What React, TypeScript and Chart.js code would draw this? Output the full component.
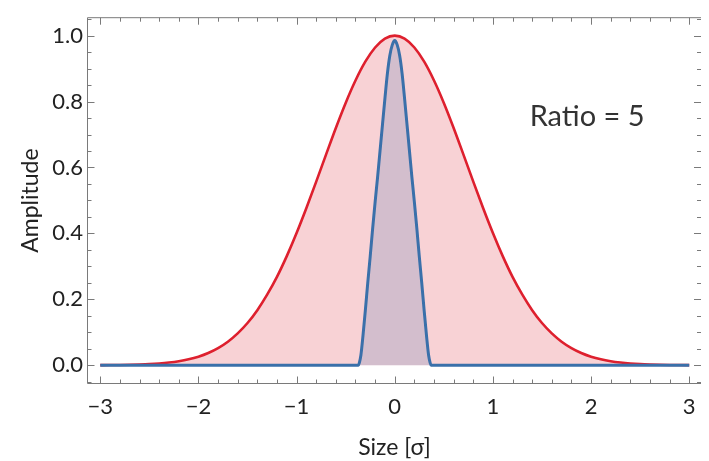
import React, { useEffect, useRef } from "react";
import { Chart, registerables } from "chart.js";

Chart.register(...registerables);

// ---- data ----
const xMajorTicks = [-3, -2, -1, 0, 1, 2, 3];
const yMajorTicks = [0, 0.2, 0.4, 0.6, 0.8, 1.0];

const redX = [
  -3.0, -2.9, -2.8, -2.7, -2.6, -2.5, -2.4, -2.3, -2.2, -2.1,
  -2.0, -1.9, -1.8, -1.7, -1.6, -1.5, -1.4, -1.3, -1.2, -1.1,
  -1.0, -0.9, -0.8, -0.7, -0.6, -0.5, -0.4, -0.3, -0.2, -0.1,
  0.0,
  0.1, 0.2, 0.3, 0.4, 0.5, 0.6, 0.7, 0.8, 0.9, 1.0,
  1.1, 1.2, 1.3, 1.4, 1.5, 1.6, 1.7, 1.8, 1.9, 2.0,
  2.1, 2.2, 2.3, 2.4, 2.5, 2.6, 2.7, 2.8, 2.9, 3.0,
];
const redY = [
  0.0003, 0.0005, 0.0008, 0.0013, 0.0021, 0.0033, 0.0052, 0.008, 0.012, 0.0178,
  0.0259, 0.037, 0.0519, 0.0714, 0.0966, 0.128, 0.167, 0.214, 0.268, 0.331,
  0.401, 0.477, 0.557, 0.639, 0.72, 0.796, 0.864, 0.921, 0.964, 0.991,
  1.0,
  0.991, 0.964, 0.921, 0.864, 0.796, 0.72, 0.639, 0.557, 0.477, 0.401,
  0.331, 0.268, 0.214, 0.167, 0.128, 0.0966, 0.0714, 0.0519, 0.037, 0.0259,
  0.0178, 0.012, 0.008, 0.0052, 0.0033, 0.0021, 0.0013, 0.0008, 0.0005, 0.0003,
];

const blueX = [
  -3.0, -0.37, -0.36, -0.345, -0.325, -0.3, -0.275, -0.25, -0.225, -0.2,
  -0.175, -0.15, -0.125, -0.1, -0.075, -0.05, -0.025,
  0.0,
  0.025, 0.05, 0.075, 0.1, 0.125, 0.15, 0.175,
  0.2, 0.225, 0.25, 0.275, 0.3, 0.325, 0.345, 0.36, 0.37, 3.0,
];
const blueY = [
  0, 0, 0.008, 0.03, 0.085, 0.165, 0.25, 0.33, 0.415, 0.495,
  0.57, 0.65, 0.73, 0.81, 0.885, 0.94, 0.972,
  0.985,
  0.972, 0.94, 0.885, 0.81, 0.73, 0.65, 0.57,
  0.495, 0.415, 0.33, 0.25, 0.165, 0.085, 0.03, 0.008, 0, 0,
];

const annotationText = "Ratio = 5";
const xTitle = "Size [σ]";
const yTitle = "Amplitude";

const FONT = "Lato, 'Open Sans', sans-serif";

const framePlugin = {
  id: "mmaFrame",
  afterDatasetsDraw(chart: any) {
    const { ctx, chartArea, scales } = chart;
    const { left, right, top, bottom } = chartArea;
    const xs = scales.x;
    const ys = scales.y;
    ctx.save();
    ctx.strokeStyle = "#7a7a7a";
    ctx.lineWidth = 1;
    // frame (left, top, bottom)
    ctx.beginPath();
    ctx.moveTo(right, top - 0.5);
    ctx.lineTo(left - 0.5, top - 0.5);
    ctx.lineTo(left - 0.5, bottom + 0.5);
    ctx.lineTo(right, bottom + 0.5);
    ctx.stroke();

    const major = 7;
    const minor = 4;
    ctx.beginPath();
    // x ticks (bottom and top)
    for (let i = -16; i <= 16; i++) {
      const v = i * 0.2;
      if (v < xs.min || v > xs.max) continue;
      const len = i % 5 === 0 ? major : minor;
      const px = Math.round(xs.getPixelForValue(v)) + 0.5;
      ctx.moveTo(px, bottom + 0.5);
      ctx.lineTo(px, bottom + 0.5 - len);
      ctx.moveTo(px, top - 0.5);
      ctx.lineTo(px, top - 0.5 + len);
    }
    // y ticks (left and right)
    for (let i = -1; i <= 21; i++) {
      const v = i * 0.05;
      const len = i % 4 === 0 ? major : minor;
      const py = Math.round(ys.getPixelForValue(v)) + 0.5;
      ctx.moveTo(left - 0.5, py);
      ctx.lineTo(left - 0.5 + len, py);
      ctx.moveTo(right, py);
      ctx.lineTo(right - len, py);
    }
    ctx.stroke();

    // annotation
    ctx.fillStyle = "#333333";
    ctx.font = `29px ${FONT}`;
    ctx.textAlign = "center";
    ctx.textBaseline = "alphabetic";
    ctx.fillText(annotationText, xs.getPixelForValue(1.96), ys.getPixelForValue(0.726));
    ctx.restore();
  },
};

export default function App() {
  const ref = useRef<HTMLCanvasElement | null>(null);

  useEffect(() => {
    if (!ref.current) return;
    const chart = new Chart(ref.current, {
      type: "line",
      data: {
        datasets: [
          {
            label: "wide",
            data: redX.map((x, i) => ({ x, y: redY[i] })),
            borderColor: "rgb(222,32,46)",
            backgroundColor: "rgba(222,32,46,0.2)",
            borderWidth: 2.6,
            fill: "origin",
            cubicInterpolationMode: "monotone",
            pointRadius: 0,
            order: 2,
          },
          {
            label: "narrow",
            data: blueX.map((x, i) => ({ x, y: blueY[i] })),
            borderColor: "rgb(58,112,170)",
            backgroundColor: "rgba(58,112,170,0.2)",
            borderWidth: 3,
            fill: "origin",
            cubicInterpolationMode: "monotone",
            pointRadius: 0,
            order: 1,
          },
        ],
      },
      options: {
        animation: false,
        responsive: false,
        maintainAspectRatio: false,
        layout: { padding: { top: 7, right: 8, left: 0, bottom: 0 } },
        plugins: {
          legend: { display: false },
          tooltip: { enabled: false },
        },
        scales: {
          x: {
            type: "linear",
            min: -3.125,
            max: 3.12,
            grid: { display: false, drawTicks: false },
            border: { display: false },
            afterBuildTicks: (s: any) => {
              s.ticks = xMajorTicks.map((v) => ({ value: v }));
            },
            afterFit: (s: any) => {
              s.height = 78;
            },
            ticks: {
              padding: 11,
              autoSkip: false,
              maxRotation: 0,
              color: "#222222",
              font: { family: FONT, size: 22 },
              callback: (v: any) => (v < 0 ? "\u2212" + Math.abs(v) : String(v)),
            },
            title: {
              display: true,
              text: xTitle,
              color: "#222222",
              font: { family: FONT, size: 23 },
              padding: { top: 0, bottom: 0 },
            },
          },
          y: {
            type: "linear",
            min: -0.054,
            max: 1.053,
            grid: { display: false, drawTicks: false },
            border: { display: false },
            afterBuildTicks: (s: any) => {
              s.ticks = yMajorTicks.map((v) => ({ value: v }));
            },
            afterFit: (s: any) => {
              s.width = 88;
            },
            ticks: {
              padding: 5,
              autoSkip: false,
              color: "#222222",
              font: { family: FONT, size: 22 },
              callback: (v: any) => Number(v).toFixed(1),
            },
            title: {
              display: true,
              text: yTitle,
              color: "#222222",
              font: { family: FONT, size: 23 },
              padding: { top: 17, bottom: 0 },
            },
          },
        },
      },
      plugins: [framePlugin],
    });
    return () => chart.destroy();
  }, []);

  return (
    <div style={{ position: "fixed", left: 0, top: 0, width: 709, height: 461, background: "#fff" }}>
      <canvas ref={ref} width={709} height={461} style={{ display: "block" }} />
    </div>
  );
}
